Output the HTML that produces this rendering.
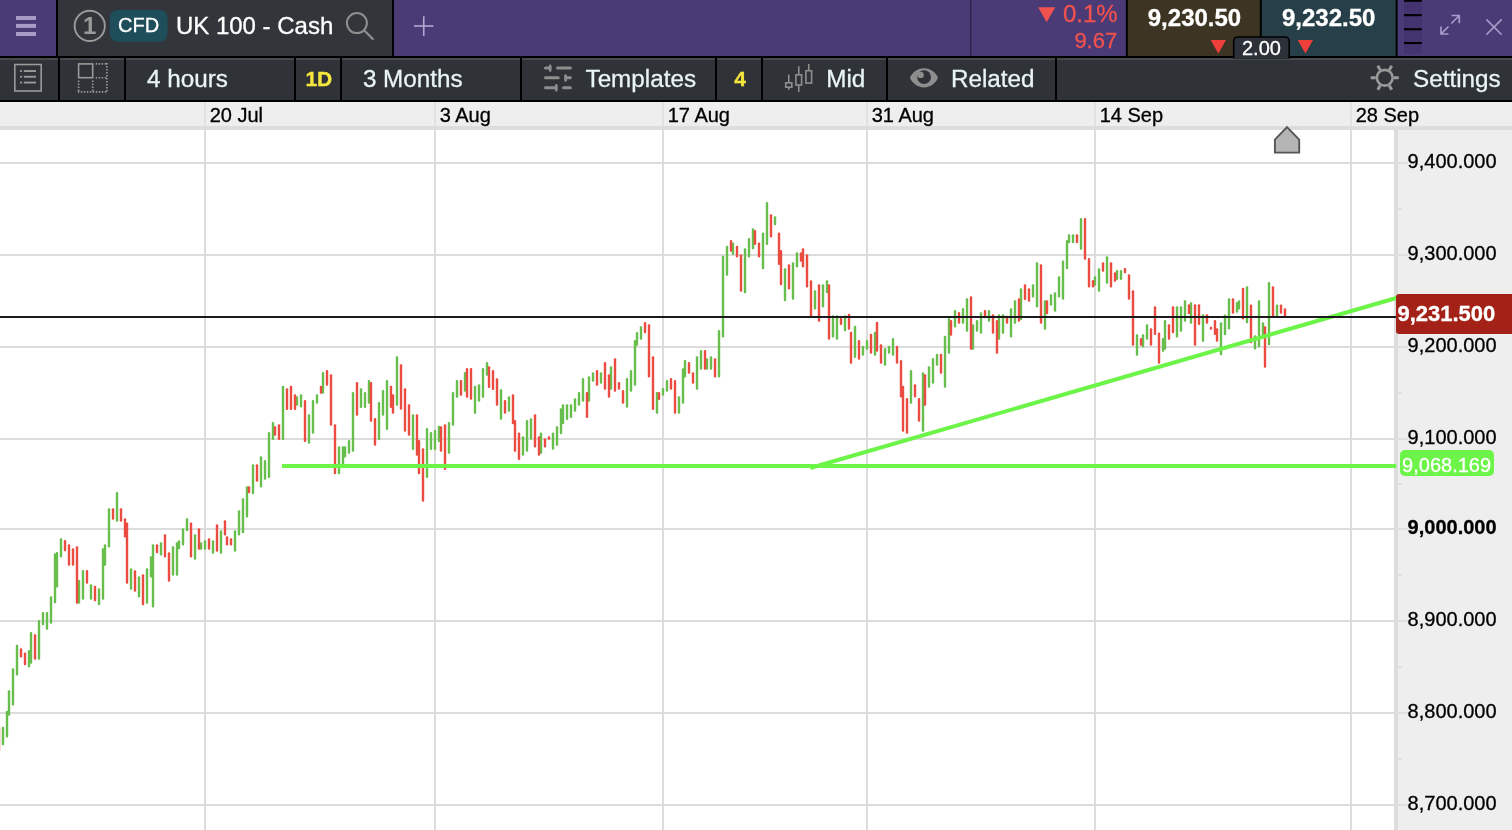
<!DOCTYPE html>
<html lang="en">
<head>
<meta charset="utf-8">
<title>UK 100 - Cash</title>
<style>
html,body{margin:0;padding:0;}
body{width:1512px;height:830px;overflow:hidden;background:#fff;position:relative;font-family:"Liberation Sans",sans-serif;}
#app{position:absolute;left:0;top:0;width:1512px;height:830px;overflow:hidden;background:#fff;}
svg{position:absolute;left:0;top:0;}
.t{position:absolute;white-space:nowrap;color:#fff;-webkit-text-stroke:0.3px currentColor;}
.t24{font-size:24px;line-height:24px;}
.t22{font-size:22px;line-height:22px;}
.t20{font-size:20px;line-height:20px;}
.t21{font-size:21px;line-height:21px;}
.bold{font-weight:bold;}
.red{color:#f0524f;}
.c{text-align:center;}
#toolbar .t{color:#e8f4f8;top:66.1px;transform:translateY(0.5px);}
#toolbar .t24{font-size:24.25px;line-height:24.25px;}
#toolbar .y{color:#f6e73e;top:67.4px;}
#dates .t{color:#000;top:105.1px;}
#prices .t{color:#000;left:1407.6px;}
</style>
</head>
<body>
<div id="app">

<svg id="gfx" width="1512" height="830" viewBox="0 0 1512 830">
<!-- chart -->
<g fill="#dcdcdc">
<rect x="0" y="162" width="1394" height="2"/>
<rect x="0" y="254" width="1394" height="2"/>
<rect x="0" y="346" width="1394" height="2"/>
<rect x="0" y="438" width="1394" height="2"/>
<rect x="0" y="528" width="1394" height="2"/>
<rect x="0" y="620" width="1394" height="2"/>
<rect x="0" y="712" width="1394" height="2"/>
<rect x="0" y="804" width="1394" height="2"/>
<rect x="204" y="130" width="2" height="700"/>
<rect x="434" y="130" width="2" height="700"/>
<rect x="662" y="130" width="2" height="700"/>
<rect x="866" y="130" width="2" height="700"/>
<rect x="1094" y="130" width="2" height="700"/>
<rect x="1350" y="130" width="2" height="700"/>
</g>
<g fill="#67be4c"><rect x="1.8" y="726.67" width="2.4" height="18.67" rx="1"/><rect x="5.8" y="710.83" width="2.4" height="26.67" rx="1"/><rect x="7.8" y="690.33" width="2.4" height="25.5" rx="1"/><rect x="11.8" y="668.33" width="2.4" height="37.17" rx="1"/><rect x="15.8" y="644.67" width="2.4" height="30.83" rx="1"/><rect x="27.8" y="650" width="2.4" height="17.5" rx="1"/><rect x="29.8" y="632" width="2.4" height="31.67" rx="1"/><rect x="37.8" y="620" width="2.4" height="39.67" rx="1"/><rect x="41.8" y="612" width="2.4" height="13.33" rx="1"/><rect x="45.8" y="612" width="2.4" height="17.67" rx="1"/><rect x="49.8" y="596.33" width="2.4" height="27.33" rx="1"/><rect x="53.8" y="553.33" width="2.4" height="50" rx="1"/><rect x="55.8" y="552" width="2.4" height="35.5" rx="1"/><rect x="59.8" y="538.33" width="2.4" height="19.17" rx="1"/><rect x="77.8" y="580" width="2.4" height="23.67" rx="1"/><rect x="81.8" y="570" width="2.4" height="29.67" rx="1"/><rect x="89.8" y="584.17" width="2.4" height="15.5" rx="1"/><rect x="97.8" y="588.33" width="2.4" height="17" rx="1"/><rect x="101.8" y="548.33" width="2.4" height="51.33" rx="1"/><rect x="103.8" y="544.17" width="2.4" height="21.67" rx="1"/><rect x="107.8" y="508.33" width="2.4" height="39.17" rx="1"/><rect x="115.8" y="492" width="2.4" height="29.67" rx="1"/><rect x="129.8" y="568.33" width="2.4" height="21.33" rx="1"/><rect x="137.8" y="576.33" width="2.4" height="21.17" rx="1"/><rect x="145.8" y="568.33" width="2.4" height="35.33" rx="1"/><rect x="149.8" y="556.33" width="2.4" height="21.17" rx="1"/><rect x="151.8" y="544.17" width="2.4" height="63.33" rx="1"/><rect x="159.8" y="542.17" width="2.4" height="13.33" rx="1"/><rect x="171.8" y="546.17" width="2.4" height="29.67" rx="1"/><rect x="175.8" y="542.17" width="2.4" height="33.67" rx="1"/><rect x="177.8" y="540.33" width="2.4" height="8.83" rx="1"/><rect x="181.8" y="528.33" width="2.4" height="17.17" rx="1"/><rect x="185.8" y="518.33" width="2.4" height="13" rx="1"/><rect x="193.8" y="534.17" width="2.4" height="25.5" rx="1"/><rect x="199.8" y="542.17" width="2.4" height="7.5" rx="1"/><rect x="203.8" y="540.33" width="2.4" height="9.33" rx="1"/><rect x="211.8" y="540.33" width="2.4" height="13.33" rx="1"/><rect x="219.8" y="530.33" width="2.4" height="23.33" rx="1"/><rect x="233.8" y="530.33" width="2.4" height="21.33" rx="1"/><rect x="237.8" y="510.33" width="2.4" height="25.17" rx="1"/><rect x="241.8" y="498.33" width="2.4" height="35" rx="1"/><rect x="245.8" y="486.33" width="2.4" height="31.17" rx="1"/><rect x="251.8" y="464.17" width="2.4" height="30" rx="1"/><rect x="259.8" y="456.33" width="2.4" height="31.17" rx="1"/><rect x="263.8" y="460" width="2.4" height="19.67" rx="1"/><rect x="267.8" y="432" width="2.4" height="46" rx="1"/><rect x="271.8" y="422" width="2.4" height="18" rx="1"/><rect x="281.8" y="385.83" width="2.4" height="54.17" rx="1"/><rect x="295.8" y="396.33" width="2.4" height="9.5" rx="1"/><rect x="299.8" y="394.17" width="2.4" height="13.33" rx="1"/><rect x="307.8" y="414.17" width="2.4" height="29.5" rx="1"/><rect x="311.8" y="400" width="2.4" height="33.83" rx="1"/><rect x="315.8" y="394.17" width="2.4" height="9.5" rx="1"/><rect x="321.8" y="372" width="2.4" height="21.67" rx="1"/><rect x="337.8" y="446.33" width="2.4" height="27.83" rx="1"/><rect x="341.8" y="446.33" width="2.4" height="22" rx="1"/><rect x="343.8" y="446.33" width="2.4" height="11.17" rx="1"/><rect x="347.8" y="440" width="2.4" height="13.67" rx="1"/><rect x="351.8" y="392" width="2.4" height="59.67" rx="1"/><rect x="359.8" y="388.33" width="2.4" height="19.67" rx="1"/><rect x="363.8" y="392" width="2.4" height="16" rx="1"/><rect x="367.8" y="380" width="2.4" height="23.67" rx="1"/><rect x="377.8" y="402" width="2.4" height="38" rx="1"/><rect x="381.8" y="390" width="2.4" height="25.83" rx="1"/><rect x="385.8" y="380" width="2.4" height="50" rx="1"/><rect x="395.8" y="356.33" width="2.4" height="49.5" rx="1"/><rect x="411.8" y="414.17" width="2.4" height="35.83" rx="1"/><rect x="425.8" y="428" width="2.4" height="50" rx="1"/><rect x="429.8" y="432" width="2.4" height="18" rx="1"/><rect x="433.8" y="430" width="2.4" height="20" rx="1"/><rect x="437.8" y="425.83" width="2.4" height="16.17" rx="1"/><rect x="447.8" y="422" width="2.4" height="31.67" rx="1"/><rect x="451.8" y="392" width="2.4" height="33.83" rx="1"/><rect x="455.8" y="380" width="2.4" height="17.83" rx="1"/><rect x="463.8" y="372" width="2.4" height="19.67" rx="1"/><rect x="473.8" y="385.83" width="2.4" height="27.83" rx="1"/><rect x="477.8" y="384.17" width="2.4" height="17.5" rx="1"/><rect x="481.8" y="368" width="2.4" height="29.83" rx="1"/><rect x="485.8" y="362" width="2.4" height="13.83" rx="1"/><rect x="499.8" y="389.17" width="2.4" height="30.5" rx="1"/><rect x="507.8" y="396.17" width="2.4" height="15.5" rx="1"/><rect x="521.8" y="436.33" width="2.4" height="19.5" rx="1"/><rect x="525.8" y="420" width="2.4" height="31.67" rx="1"/><rect x="529.8" y="418.33" width="2.4" height="21.33" rx="1"/><rect x="539.8" y="432.5" width="2.4" height="21.17" rx="1"/><rect x="551.8" y="432.5" width="2.4" height="17.17" rx="1"/><rect x="555.8" y="426.33" width="2.4" height="19.5" rx="1"/><rect x="559.8" y="408.33" width="2.4" height="25.83" rx="1"/><rect x="561.8" y="404.17" width="2.4" height="20" rx="1"/><rect x="565.8" y="404.17" width="2.4" height="15.83" rx="1"/><rect x="569.8" y="404.17" width="2.4" height="13.83" rx="1"/><rect x="573.8" y="398.33" width="2.4" height="13.33" rx="1"/><rect x="577.8" y="392" width="2.4" height="13.83" rx="1"/><rect x="581.8" y="378" width="2.4" height="23.67" rx="1"/><rect x="587.8" y="376.17" width="2.4" height="25.5" rx="1"/><rect x="591.8" y="372.17" width="2.4" height="9.5" rx="1"/><rect x="599.8" y="372.17" width="2.4" height="11.5" rx="1"/><rect x="609.8" y="366.33" width="2.4" height="23.33" rx="1"/><rect x="625.8" y="378" width="2.4" height="29.83" rx="1"/><rect x="629.8" y="370" width="2.4" height="21.67" rx="1"/><rect x="633.8" y="340" width="2.4" height="45.83" rx="1"/><rect x="635.8" y="332" width="2.4" height="13.83" rx="1"/><rect x="639.8" y="326.17" width="2.4" height="13.5" rx="1"/><rect x="655.8" y="392" width="2.4" height="21.67" rx="1"/><rect x="661.8" y="388" width="2.4" height="7.83" rx="1"/><rect x="665.8" y="380" width="2.4" height="11.67" rx="1"/><rect x="677.8" y="396.17" width="2.4" height="17.5" rx="1"/><rect x="681.8" y="368.33" width="2.4" height="35.33" rx="1"/><rect x="683.8" y="360" width="2.4" height="17.5" rx="1"/><rect x="695.8" y="356.33" width="2.4" height="33.33" rx="1"/><rect x="699.8" y="350" width="2.4" height="19.67" rx="1"/><rect x="705.8" y="358.33" width="2.4" height="11.33" rx="1"/><rect x="709.8" y="356.33" width="2.4" height="13.33" rx="1"/><rect x="717.8" y="330" width="2.4" height="47.5" rx="1"/><rect x="721.8" y="255.83" width="2.4" height="81.67" rx="1"/><rect x="725.8" y="245.83" width="2.4" height="30" rx="1"/><rect x="731.8" y="242.5" width="2.4" height="12.5" rx="1"/><rect x="743.8" y="248.33" width="2.4" height="45" rx="1"/><rect x="747.8" y="238" width="2.4" height="19.5" rx="1"/><rect x="751.8" y="228.33" width="2.4" height="20.83" rx="1"/><rect x="761.8" y="232.5" width="2.4" height="36.67" rx="1"/><rect x="765.8" y="202" width="2.4" height="43" rx="1"/><rect x="773.8" y="216.33" width="2.4" height="9" rx="1"/><rect x="783.8" y="268.33" width="2.4" height="33" rx="1"/><rect x="791.8" y="262.17" width="2.4" height="37.5" rx="1"/><rect x="795.8" y="252.17" width="2.4" height="15.33" rx="1"/><rect x="813.8" y="290.33" width="2.4" height="19.17" rx="1"/><rect x="821.8" y="284.17" width="2.4" height="23.33" rx="1"/><rect x="825.8" y="280.33" width="2.4" height="13" rx="1"/><rect x="831.8" y="315.33" width="2.4" height="22.17" rx="1"/><rect x="835.8" y="315.33" width="2.4" height="24.33" rx="1"/><rect x="843.8" y="315.33" width="2.4" height="16" rx="1"/><rect x="853.8" y="325.83" width="2.4" height="32.17" rx="1"/><rect x="861.8" y="345.83" width="2.4" height="10" rx="1"/><rect x="865.8" y="340" width="2.4" height="9.67" rx="1"/><rect x="873.8" y="331.67" width="2.4" height="24.17" rx="1"/><rect x="883.8" y="348" width="2.4" height="17.83" rx="1"/><rect x="887.8" y="345.83" width="2.4" height="7.83" rx="1"/><rect x="891.8" y="338" width="2.4" height="17.83" rx="1"/><rect x="909.8" y="370" width="2.4" height="33.67" rx="1"/><rect x="921.8" y="372.17" width="2.4" height="59.5" rx="1"/><rect x="927.8" y="366.33" width="2.4" height="21.5" rx="1"/><rect x="931.8" y="358" width="2.4" height="25.67" rx="1"/><rect x="935.8" y="353.83" width="2.4" height="12" rx="1"/><rect x="943.8" y="335.83" width="2.4" height="52" rx="1"/><rect x="947.8" y="318" width="2.4" height="35.83" rx="1"/><rect x="953.8" y="310" width="2.4" height="17.5" rx="1"/><rect x="961.8" y="308" width="2.4" height="15.67" rx="1"/><rect x="965.8" y="298.33" width="2.4" height="33.33" rx="1"/><rect x="971.8" y="324.17" width="2.4" height="25.5" rx="1"/><rect x="975.8" y="320" width="2.4" height="11.67" rx="1"/><rect x="979.8" y="312.17" width="2.4" height="21.5" rx="1"/><rect x="987.8" y="310" width="2.4" height="11.67" rx="1"/><rect x="997.8" y="314.17" width="2.4" height="25.5" rx="1"/><rect x="1001.8" y="314.17" width="2.4" height="19.5" rx="1"/><rect x="1009.8" y="308.33" width="2.4" height="29.17" rx="1"/><rect x="1013.8" y="300.33" width="2.4" height="23.33" rx="1"/><rect x="1019.8" y="288.33" width="2.4" height="31.67" rx="1"/><rect x="1031.8" y="284.17" width="2.4" height="13.33" rx="1"/><rect x="1035.8" y="262.17" width="2.4" height="45.33" rx="1"/><rect x="1043.8" y="300.33" width="2.4" height="29.33" rx="1"/><rect x="1049.8" y="294.17" width="2.4" height="11.67" rx="1"/><rect x="1053.8" y="292.17" width="2.4" height="19.5" rx="1"/><rect x="1057.8" y="276.33" width="2.4" height="21.17" rx="1"/><rect x="1061.8" y="260.5" width="2.4" height="39.17" rx="1"/><rect x="1065.8" y="240" width="2.4" height="29.17" rx="1"/><rect x="1067.8" y="234.17" width="2.4" height="9.17" rx="1"/><rect x="1071.8" y="234.17" width="2.4" height="9.17" rx="1"/><rect x="1079.8" y="218" width="2.4" height="31.67" rx="1"/><rect x="1093.8" y="276.33" width="2.4" height="9.5" rx="1"/><rect x="1097.8" y="268.33" width="2.4" height="23.33" rx="1"/><rect x="1105.8" y="256.33" width="2.4" height="27.33" rx="1"/><rect x="1115.8" y="270" width="2.4" height="10" rx="1"/><rect x="1119.8" y="270" width="2.4" height="10" rx="1"/><rect x="1135.8" y="334.17" width="2.4" height="21.67" rx="1"/><rect x="1141.8" y="334.17" width="2.4" height="13.33" rx="1"/><rect x="1145.8" y="324.17" width="2.4" height="15.5" rx="1"/><rect x="1161.8" y="338" width="2.4" height="13.67" rx="1"/><rect x="1163.8" y="320" width="2.4" height="29.67" rx="1"/><rect x="1175.8" y="306.33" width="2.4" height="31.17" rx="1"/><rect x="1179.8" y="306.33" width="2.4" height="25.33" rx="1"/><rect x="1183.8" y="300.33" width="2.4" height="21.33" rx="1"/><rect x="1189.8" y="302.17" width="2.4" height="21.5" rx="1"/><rect x="1201.8" y="314.17" width="2.4" height="27.5" rx="1"/><rect x="1219.8" y="322.33" width="2.4" height="33" rx="1"/><rect x="1223.8" y="314.5" width="2.4" height="20.83" rx="1"/><rect x="1227.8" y="298.17" width="2.4" height="31.33" rx="1"/><rect x="1235.8" y="302" width="2.4" height="10.83" rx="1"/><rect x="1237.8" y="300.33" width="2.4" height="9.17" rx="1"/><rect x="1245.8" y="286.17" width="2.4" height="37.17" rx="1"/><rect x="1253.8" y="335.33" width="2.4" height="14.17" rx="1"/><rect x="1257.8" y="300.33" width="2.4" height="47" rx="1"/><rect x="1261.8" y="322.33" width="2.4" height="13" rx="1"/><rect x="1267.8" y="282" width="2.4" height="63.33" rx="1"/><rect x="1275.8" y="304.5" width="2.4" height="13.33" rx="1"/></g>
<g fill="#ea4c41"><rect x="-2.2" y="726.67" width="2.4" height="25" rx="1"/><rect x="19.8" y="648.33" width="2.4" height="9.17" rx="1"/><rect x="23.8" y="652.5" width="2.4" height="12.83" rx="1"/><rect x="33.8" y="634.17" width="2.4" height="25.5" rx="1"/><rect x="63.8" y="540" width="2.4" height="11.33" rx="1"/><rect x="67.8" y="544.17" width="2.4" height="21.67" rx="1"/><rect x="71.8" y="548.33" width="2.4" height="17.5" rx="1"/><rect x="75.8" y="546.17" width="2.4" height="57.5" rx="1"/><rect x="85.8" y="570" width="2.4" height="13.67" rx="1"/><rect x="93.8" y="585.83" width="2.4" height="15.5" rx="1"/><rect x="111.8" y="508.33" width="2.4" height="11.33" rx="1"/><rect x="119.8" y="508.33" width="2.4" height="13.33" rx="1"/><rect x="123.8" y="518.33" width="2.4" height="19.17" rx="1"/><rect x="125.8" y="522.5" width="2.4" height="61.17" rx="1"/><rect x="133.8" y="570.33" width="2.4" height="21.33" rx="1"/><rect x="141.8" y="574.17" width="2.4" height="31.17" rx="1"/><rect x="155.8" y="544.17" width="2.4" height="9.17" rx="1"/><rect x="163.8" y="534.17" width="2.4" height="23.33" rx="1"/><rect x="167.8" y="552.17" width="2.4" height="29.5" rx="1"/><rect x="189.8" y="522.5" width="2.4" height="35" rx="1"/><rect x="197.8" y="528.33" width="2.4" height="21.33" rx="1"/><rect x="207.8" y="538.33" width="2.4" height="11.33" rx="1"/><rect x="215.8" y="524.17" width="2.4" height="27.5" rx="1"/><rect x="223.8" y="520.33" width="2.4" height="15.17" rx="1"/><rect x="225.8" y="536.33" width="2.4" height="9.17" rx="1"/><rect x="229.8" y="538.33" width="2.4" height="7.17" rx="1"/><rect x="247.8" y="486.33" width="2.4" height="7" rx="1"/><rect x="255.8" y="464.17" width="2.4" height="17.5" rx="1"/><rect x="273.8" y="426.33" width="2.4" height="9.5" rx="1"/><rect x="277.8" y="424.17" width="2.4" height="15.83" rx="1"/><rect x="285.8" y="388.33" width="2.4" height="21.67" rx="1"/><rect x="289.8" y="385.83" width="2.4" height="24.17" rx="1"/><rect x="293.8" y="394.17" width="2.4" height="15.83" rx="1"/><rect x="303.8" y="400" width="2.4" height="42" rx="1"/><rect x="319.8" y="385.83" width="2.4" height="7.83" rx="1"/><rect x="325.8" y="370" width="2.4" height="15.83" rx="1"/><rect x="329.8" y="374.17" width="2.4" height="51.67" rx="1"/><rect x="333.8" y="424.17" width="2.4" height="50" rx="1"/><rect x="355.8" y="382" width="2.4" height="33.83" rx="1"/><rect x="369.8" y="382" width="2.4" height="39.67" rx="1"/><rect x="373.8" y="418" width="2.4" height="27.83" rx="1"/><rect x="389.8" y="385.83" width="2.4" height="22.17" rx="1"/><rect x="391.8" y="394.17" width="2.4" height="19.5" rx="1"/><rect x="399.8" y="364.17" width="2.4" height="45.5" rx="1"/><rect x="403.8" y="388.33" width="2.4" height="43.33" rx="1"/><rect x="407.8" y="404.17" width="2.4" height="31.67" rx="1"/><rect x="415.8" y="414.17" width="2.4" height="41.67" rx="1"/><rect x="417.8" y="440" width="2.4" height="34.17" rx="1"/><rect x="421.8" y="448.33" width="2.4" height="53.33" rx="1"/><rect x="439.8" y="426.33" width="2.4" height="25.33" rx="1"/><rect x="443.8" y="424.17" width="2.4" height="45.83" rx="1"/><rect x="459.8" y="380" width="2.4" height="15.83" rx="1"/><rect x="465.8" y="368" width="2.4" height="29.83" rx="1"/><rect x="469.8" y="368" width="2.4" height="31.67" rx="1"/><rect x="487.8" y="366.17" width="2.4" height="21.83" rx="1"/><rect x="491.8" y="370" width="2.4" height="20" rx="1"/><rect x="495.8" y="378.33" width="2.4" height="27.5" rx="1"/><rect x="503.8" y="400" width="2.4" height="13.67" rx="1"/><rect x="511.8" y="394.17" width="2.4" height="30" rx="1"/><rect x="513.8" y="420" width="2.4" height="31.67" rx="1"/><rect x="517.8" y="432.5" width="2.4" height="27.5" rx="1"/><rect x="533.8" y="414.17" width="2.4" height="33.33" rx="1"/><rect x="537.8" y="436.33" width="2.4" height="19.5" rx="1"/><rect x="543.8" y="438.33" width="2.4" height="9.17" rx="1"/><rect x="547.8" y="436.33" width="2.4" height="3.33" rx="1"/><rect x="585.8" y="392" width="2.4" height="26" rx="1"/><rect x="595.8" y="370" width="2.4" height="15.83" rx="1"/><rect x="603.8" y="362" width="2.4" height="27.67" rx="1"/><rect x="607.8" y="374.17" width="2.4" height="23.67" rx="1"/><rect x="613.8" y="358.33" width="2.4" height="33.33" rx="1"/><rect x="617.8" y="382" width="2.4" height="7.67" rx="1"/><rect x="621.8" y="390" width="2.4" height="13.67" rx="1"/><rect x="643.8" y="322" width="2.4" height="11.33" rx="1"/><rect x="647.8" y="324.17" width="2.4" height="53.33" rx="1"/><rect x="651.8" y="356.33" width="2.4" height="53.67" rx="1"/><rect x="657.8" y="392" width="2.4" height="8" rx="1"/><rect x="669.8" y="378" width="2.4" height="11.67" rx="1"/><rect x="673.8" y="380" width="2.4" height="33.67" rx="1"/><rect x="687.8" y="362" width="2.4" height="11.67" rx="1"/><rect x="691.8" y="372.17" width="2.4" height="11.5" rx="1"/><rect x="703.8" y="350" width="2.4" height="19.67" rx="1"/><rect x="713.8" y="358.33" width="2.4" height="19.17" rx="1"/><rect x="729.8" y="240" width="2.4" height="11.67" rx="1"/><rect x="735.8" y="245.83" width="2.4" height="11.67" rx="1"/><rect x="739.8" y="254.17" width="2.4" height="37.5" rx="1"/><rect x="753.8" y="230" width="2.4" height="15" rx="1"/><rect x="757.8" y="242.5" width="2.4" height="15" rx="1"/><rect x="769.8" y="214.17" width="2.4" height="23.33" rx="1"/><rect x="777.8" y="232.5" width="2.4" height="32.5" rx="1"/><rect x="779.8" y="250" width="2.4" height="35.33" rx="1"/><rect x="787.8" y="264.17" width="2.4" height="25.33" rx="1"/><rect x="799.8" y="252.17" width="2.4" height="9.5" rx="1"/><rect x="801.8" y="248.33" width="2.4" height="19.17" rx="1"/><rect x="805.8" y="254.17" width="2.4" height="33.33" rx="1"/><rect x="809.8" y="280.33" width="2.4" height="37.17" rx="1"/><rect x="817.8" y="284.17" width="2.4" height="37.5" rx="1"/><rect x="827.8" y="284.17" width="2.4" height="55.5" rx="1"/><rect x="839.8" y="318" width="2.4" height="7" rx="1"/><rect x="847.8" y="313.67" width="2.4" height="16" rx="1"/><rect x="849.8" y="331.67" width="2.4" height="32" rx="1"/><rect x="857.8" y="340" width="2.4" height="19.67" rx="1"/><rect x="869.8" y="333.67" width="2.4" height="20" rx="1"/><rect x="875.8" y="321.67" width="2.4" height="30" rx="1"/><rect x="879.8" y="344.17" width="2.4" height="19.5" rx="1"/><rect x="895.8" y="345.83" width="2.4" height="17.83" rx="1"/><rect x="899.8" y="360" width="2.4" height="37.5" rx="1"/><rect x="901.8" y="385.83" width="2.4" height="45.83" rx="1"/><rect x="905.8" y="398" width="2.4" height="35.67" rx="1"/><rect x="913.8" y="384.17" width="2.4" height="13.33" rx="1"/><rect x="917.8" y="398" width="2.4" height="23.67" rx="1"/><rect x="923.8" y="374.17" width="2.4" height="31.67" rx="1"/><rect x="939.8" y="353.83" width="2.4" height="20" rx="1"/><rect x="949.8" y="320" width="2.4" height="15.83" rx="1"/><rect x="957.8" y="312" width="2.4" height="11.67" rx="1"/><rect x="969.8" y="296.33" width="2.4" height="53.33" rx="1"/><rect x="983.8" y="310" width="2.4" height="8.33" rx="1"/><rect x="991.8" y="314.17" width="2.4" height="19.5" rx="1"/><rect x="995.8" y="320" width="2.4" height="33.67" rx="1"/><rect x="1005.8" y="315.83" width="2.4" height="7.83" rx="1"/><rect x="1017.8" y="298.33" width="2.4" height="23.33" rx="1"/><rect x="1023.8" y="284.17" width="2.4" height="15.83" rx="1"/><rect x="1027.8" y="288.33" width="2.4" height="13.33" rx="1"/><rect x="1039.8" y="264.17" width="2.4" height="59.5" rx="1"/><rect x="1045.8" y="300.33" width="2.4" height="13.83" rx="1"/><rect x="1075.8" y="234.17" width="2.4" height="9.17" rx="1"/><rect x="1083.8" y="218" width="2.4" height="41.67" rx="1"/><rect x="1087.8" y="258" width="2.4" height="29.5" rx="1"/><rect x="1091.8" y="280" width="2.4" height="7.5" rx="1"/><rect x="1101.8" y="262.17" width="2.4" height="9.5" rx="1"/><rect x="1109.8" y="262.17" width="2.4" height="25.33" rx="1"/><rect x="1113.8" y="272.17" width="2.4" height="9.5" rx="1"/><rect x="1123.8" y="268" width="2.4" height="5.33" rx="1"/><rect x="1127.8" y="274.17" width="2.4" height="25.5" rx="1"/><rect x="1131.8" y="290.33" width="2.4" height="55.5" rx="1"/><rect x="1139.8" y="338" width="2.4" height="7.83" rx="1"/><rect x="1149.8" y="328.33" width="2.4" height="17.5" rx="1"/><rect x="1153.8" y="306.33" width="2.4" height="28.67" rx="1"/><rect x="1157.8" y="332.5" width="2.4" height="31.17" rx="1"/><rect x="1167.8" y="324.17" width="2.4" height="15.5" rx="1"/><rect x="1171.8" y="306.33" width="2.4" height="27" rx="1"/><rect x="1187.8" y="304.17" width="2.4" height="10" rx="1"/><rect x="1193.8" y="304.17" width="2.4" height="41.67" rx="1"/><rect x="1197.8" y="304.17" width="2.4" height="20.83" rx="1"/><rect x="1205.8" y="314.17" width="2.4" height="9.5" rx="1"/><rect x="1209.8" y="326.67" width="2.4" height="3" rx="1"/><rect x="1213.8" y="320" width="2.4" height="15" rx="1"/><rect x="1215.8" y="328.33" width="2.4" height="13.33" rx="1"/><rect x="1231.8" y="298.17" width="2.4" height="15.5" rx="1"/><rect x="1241.8" y="287.83" width="2.4" height="31.67" rx="1"/><rect x="1249.8" y="304.5" width="2.4" height="38.83" rx="1"/><rect x="1263.8" y="326.17" width="2.4" height="41.67" rx="1"/><rect x="1271.8" y="286.17" width="2.4" height="31.67" rx="1"/><rect x="1279.8" y="304.5" width="2.4" height="9.17" rx="1"/><rect x="1283.8" y="308.33" width="2.4" height="9.5" rx="1"/></g>
<!-- price axis background -->
<rect x="1394" y="130" width="118" height="700" fill="#eeeeee"/>
<rect x="1394" y="130" width="4" height="700" fill="#dddddd"/>
<g fill="#e0e0e0"><rect x="1398" y="162" width="10" height="2"/><rect x="1398" y="254" width="10" height="2"/><rect x="1398" y="346" width="10" height="2"/><rect x="1398" y="438" width="10" height="2"/><rect x="1398" y="528" width="10" height="2"/><rect x="1398" y="620" width="10" height="2"/><rect x="1398" y="712" width="10" height="2"/><rect x="1398" y="804" width="10" height="2"/><rect x="1398" y="208" width="4" height="2"/><rect x="1398" y="300" width="4" height="2"/><rect x="1398" y="392" width="4" height="2"/><rect x="1398" y="483" width="4" height="2"/><rect x="1398" y="574" width="4" height="2"/><rect x="1398" y="666" width="4" height="2"/><rect x="1398" y="758" width="4" height="2"/></g>
<!-- horizontal support line -->
<rect x="282" y="464" width="1114.3" height="4" fill="#6df448"/>
<!-- trend line -->
<line x1="810.3" y1="468" x2="1396.3" y2="298" stroke="#6df448" stroke-width="4"/>
<!-- last price line -->
<rect x="0" y="316" width="1396.3" height="2" fill="#1b1b1b"/>
<!-- price axis -->
<path d="M1399 294 H1512 V334 H1399 A3 3 0 0 1 1396 331 V297 A3 3 0 0 1 1399 294 Z" fill="#a32116"/>
<rect x="1400" y="450" width="94" height="26" rx="5" fill="#6df448"/>
<!-- date axis -->
<rect x="0" y="102" width="1512" height="24" fill="#eeeeee"/>
<g fill="#e1e1e1"><rect x="204" y="102" width="2" height="24"/><rect x="434" y="102" width="2" height="24"/><rect x="662" y="102" width="2" height="24"/><rect x="866" y="102" width="2" height="24"/><rect x="1094" y="102" width="2" height="24"/><rect x="1350" y="102" width="2" height="24"/></g>
<rect x="0" y="126" width="1512" height="4" fill="#dddddd"/>
<!-- marker -->
<path d="M1287 127.2 L1299.2 139.7 L1299.2 152.6 L1274.9 152.6 L1274.9 139.7 Z" fill="#b5b5b5" stroke="#555" stroke-width="1.9"/>

<!-- header -->
<rect x="0" y="0" width="1512" height="102" fill="#000"/>
<rect x="0" y="0" width="56" height="56" fill="#4a3b76"/>
<rect x="58" y="0" width="334" height="56" fill="#32353a"/>
<rect x="394" y="0" width="731.8" height="56" fill="#4a3b76"/>
<rect x="970" y="0" width="1.3" height="56" fill="#2c2247"/>
<rect x="1127.8" y="0" width="132" height="56" fill="#3e3424"/>
<rect x="1261.8" y="0" width="133.9" height="56" fill="#263f49"/>
<rect x="1397.6" y="0" width="114.4" height="56" fill="#4a3b76"/>
<rect x="1404" y="0" width="17.8" height="53.8" fill="#433470"/>
<g fill="#000"><rect x="1404" y="0" width="17.8" height="1.8"/><rect x="1404" y="14.1" width="17.8" height="2.1"/><rect x="1404" y="28.2" width="17.8" height="2.1"/><rect x="1404" y="42" width="17.8" height="2.1"/></g>
<!-- toolbar -->
<rect x="0" y="58" width="1512" height="42" fill="#2f3237"/>
<rect x="0" y="58" width="1512" height="2" fill="#464a4e"/>
<g fill="#000"><rect x="58" y="58" width="2" height="42"/><rect x="124" y="58" width="2" height="42"/><rect x="294" y="58" width="2" height="42"/><rect x="340" y="58" width="2" height="42"/><rect x="520" y="58" width="2" height="42"/><rect x="715" y="58" width="2" height="42"/><rect x="761" y="58" width="2" height="42"/><rect x="886" y="58" width="2" height="42"/><rect x="1055" y="58" width="2" height="42"/></g>
<!-- spread box -->
<path d="M1233.7 57.8 V41 A4 4 0 0 1 1237.7 37 H1285.2 A4 4 0 0 1 1289.2 41 V57.8 Z" fill="#2b3039" stroke="#000" stroke-width="1.6"/>
<rect x="1234.5" y="57" width="53.9" height="1.6" fill="#2d3138"/>

  <!-- hamburger -->
  <g fill="#a79cc6"><rect x="16" y="16" width="20" height="4"/><rect x="16" y="23.9" width="20" height="4"/><rect x="16" y="32" width="20" height="4"/></g>
  <!-- circle 1 -->
  <circle cx="89.75" cy="25.9" r="15.1" fill="none" stroke="#9a9a9a" stroke-width="1.9"/>
  <!-- CFD badge -->
  <rect x="109.75" y="10" width="57.75" height="31.75" rx="8" fill="#1f4e5b"/>
  <!-- search -->
  <g fill="none" stroke="#8e8e8e" stroke-linecap="round"><circle cx="356.9" cy="23.1" r="10" stroke-width="2"/><line x1="364.3" y1="30.5" x2="372.8" y2="39" stroke-width="2.3"/></g>
  <!-- plus -->
  <g stroke="#b3a8d2" stroke-width="1.6"><line x1="414" y1="26" x2="433.5" y2="26"/><line x1="423.75" y1="16.25" x2="423.75" y2="35.9"/></g>
  <!-- triangles -->
  <path d="M1038.1 7.3 L1055.3 7.3 L1046.7 22.3 Z" fill="#f0524f"/>
  <path d="M1210.6 40 L1226 40 L1218.3 53.5 Z" fill="#ee3f3a"/>
  <path d="M1297.7 40 L1313.1 40 L1305.4 53.5 Z" fill="#ee3f3a"/>
  <!-- expand -->
  <g fill="none" stroke="#a79cc9" stroke-width="1.7" stroke-linecap="round" stroke-linejoin="round">
    <path d="M1451.8 23 L1459.3 15.5 M1452.3 15.5 L1459.3 15.5 L1459.3 22.5"/>
    <path d="M1448 27 L1441 34 M1441 27.2 L1441 34 L1447.8 34"/>
  </g>
  <!-- close -->
  <g stroke="#a79cc9" stroke-width="1.6" stroke-linecap="round"><line x1="1486.8" y1="19.9" x2="1501.2" y2="34.3"/><line x1="1501.2" y1="19.9" x2="1486.8" y2="34.3"/></g>

  <!-- list icon -->
  <g fill="none" stroke="#9a9a9a" stroke-width="1.6"><rect x="14.8" y="64.5" width="26.4" height="26.5"/></g>
  <g fill="#9a9a9a"><rect x="20" y="70.1" width="1.9" height="1.9"/><rect x="23.8" y="70.1" width="12.2" height="1.9"/><rect x="20" y="75.8" width="1.9" height="1.9"/><rect x="23.8" y="75.8" width="12.2" height="1.9"/><rect x="20" y="81.6" width="1.9" height="1.9"/><rect x="23.8" y="81.6" width="12.2" height="1.9"/></g>
  <!-- grid icon -->
  <g fill="none" stroke="#9a9a9a" stroke-width="1.6">
    <rect x="78.6" y="63.9" width="14.1" height="13.8"/>
    <g stroke-dasharray="1.5 1.5">
      <path d="M95.7 63.9 H107.7 M95.7 77.7 H107.7 M106.9 63.1 V92.7 M77.8 91.9 H107.7 M78.6 80.6 V92.7 M92.7 80.6 V92.7"/>
    </g>
  </g>
  <!-- templates (sliders) -->
  <g stroke="#8e8e8e" stroke-linecap="round" fill="none">
    <g stroke-width="3"><path d="M545.5 67.9 H550 M557.5 67.9 H570.4 M545.5 77.8 H558.2 M565.6 77.8 H570.4 M545.5 87.8 H556 M563.5 87.8 H570.4"/></g>
    <g stroke-width="2.6"><path d="M550.2 65.7 V70.6 M565.6 75.5 V80.4 M556.3 85.3 V90.2"/></g>
  </g>
  <!-- candles icon -->
  <g stroke="#8e8e8e" stroke-width="1.6" fill="none">
    <path d="M788.75 74.4 V82.7 M788.75 87.3 V89.8"/><rect x="785.7" y="82.8" width="6.1" height="4.4"/>
    <path d="M798.75 66.3 V74.7 M798.75 85 V91.9"/><rect x="795.9" y="74.8" width="5.7" height="10.2"/>
    <path d="M808.75 64 V70.6 "/><rect x="805.9" y="70.7" width="5.7" height="12.4"/>
  </g>
  <!-- eye -->
  <path d="M909.9 77.8 C912.2 72.6 917.2 68.3 924 68.3 C930.8 68.3 935.8 72.6 938 77.8 C935.8 83 930.8 87.4 924 87.4 C917.2 87.4 912.2 83 909.9 77.8 Z" fill="#8e8e8e"/>
  <circle cx="924.1" cy="77.2" r="6.9" fill="#2f3237"/>
  <circle cx="920.6" cy="74.9" r="3.2" fill="#8e8e8e"/>
  <!-- gear -->
  <g stroke="#9a9a9a" fill="none" stroke-width="3">
    <circle cx="1384.75" cy="77.75" r="7.9" stroke-width="2.6"/>
    <path d="M1393.8 77.75 H1398.8 M1375.7 77.75 H1370.7 M1389.25 69.96 L1391.75 65.63 M1380.25 69.96 L1377.75 65.63 M1389.25 85.54 L1391.75 89.87 M1380.25 85.54 L1377.75 89.87"/>
  </g>
</svg>

<!-- header text -->
<div id="header">
  <span class="t t24 c" style="left:82.3px;top:14.4px;color:#9a9a9a;width:15px;font-weight:bold;-webkit-text-stroke:0">1</span>
  <span class="t t20 c" style="left:109.75px;top:15px;width:57.75px">CFD</span>
  <span class="t t24" style="left:175.9px;top:13.6px">UK 100 - Cash</span>
  <span class="t t24 red" style="right:394.3px;top:2.2px">0.1%</span>
  <span class="t t22 red" style="right:394.8px;top:29.5px">9.67</span>
  <span class="t t24 bold c" style="left:1127.7px;width:133.6px;top:5.9px">9,230.50</span>
  <span class="t t24 bold c" style="left:1261.7px;width:133.9px;top:5.9px">9,232.50</span>
  <span class="t t20 c" style="left:1233.7px;width:55.5px;top:38.1px">2.00</span>
</div>

<!-- toolbar text -->
<div id="toolbar">
  <span class="t t24" style="left:147.1px">4 hours</span>
  <span class="t t21 bold y" style="left:305.4px">1D</span>
  <span class="t t24" style="left:362.9px">3 Months</span>
  <span class="t t24" style="left:585.5px">Templates</span>
  <span class="t t21 bold y" style="left:734.2px">4</span>
  <span class="t t24" style="left:826.2px">Mid</span>
  <span class="t t24" style="left:950.9px">Related</span>
  <span class="t t24" style="left:1413px">Settings</span>
</div>

<!-- date axis labels -->
<div id="dates">
  <span class="t t20" style="left:209.7px">20 Jul</span>
  <span class="t t20" style="left:439.7px">3 Aug</span>
  <span class="t t20" style="left:667.7px">17 Aug</span>
  <span class="t t20" style="left:871.7px">31 Aug</span>
  <span class="t t20" style="left:1099.7px">14 Sep</span>
  <span class="t t20" style="left:1355.7px">28 Sep</span>
</div>

<!-- price axis labels -->
<div id="prices">
  <span class="t t20" style="top:150.7px">9,400.000</span>
  <span class="t t20" style="top:242.7px">9,300.000</span>
  <span class="t t20" style="top:334.7px">9,200.000</span>
  <span class="t t20" style="top:426.7px">9,100.000</span>
  <span class="t t20 bold" style="top:516.7px">9,000.000</span>
  <span class="t t20" style="top:608.7px">8,900.000</span>
  <span class="t t20" style="top:700.7px">8,800.000</span>
  <span class="t t20" style="top:792.7px">8,700.000</span>
  <span class="t t22 bold" style="left:1397.4px;top:303.3px;color:#fff">9,231.500</span>
  <span class="t t20" style="left:1402.1px;top:454.7px;color:#fff">9,068.169</span>
</div>

</div>
</body>
</html>
